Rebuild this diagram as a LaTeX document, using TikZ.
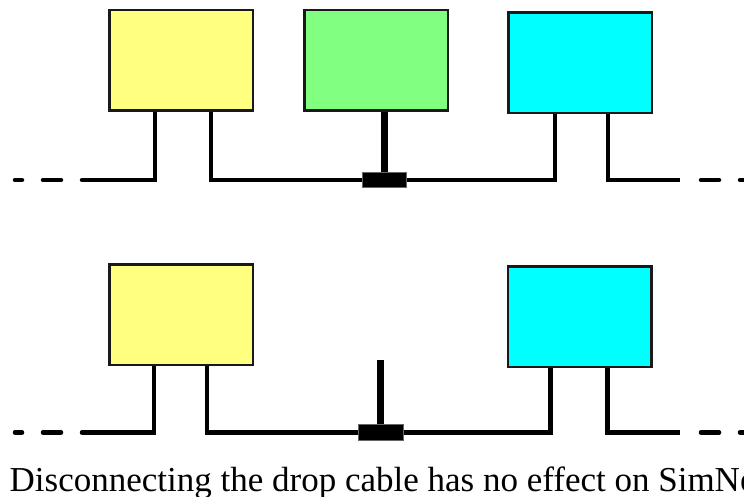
\documentclass[tikz,border=0pt]{standalone}
\usepackage{fontspec}
\setmainfont{Liberation Serif}
\usepackage{tikz}
\usetikzlibrary{positioning}

\definecolor{hostyellow}{HTML}{FFFF80}
\definecolor{hostgreen}{HTML}{80FF80}
\definecolor{hostcyan}{HTML}{00FFFF}

\begin{document}
\begin{tikzpicture}[x=1pt, y=-1pt,
            hostbox/.style={rectangle, draw=black!90, line width=2.5pt, inner sep=0pt,
                minimum width=143.5pt, minimum height=100.5pt},
            tapbox/.style={rectangle, fill=black, draw=black!60, line width=0.6pt,
                inner sep=0pt, minimum width=44pt, minimum height=15pt},
            bus/.style={line width=4.5pt, line join=miter},
            dashbus/.style={line width=4.5pt, line cap=round, dash pattern=on 18pt off 21pt},
            drop/.style={line width=7pt}
        ]
        \useasboundingbox (0,0) rectangle (744,497);
        \clip (0,0) rectangle (744,497);
        % connected: three hosts on the bus
        \node[hostbox, fill=hostyellow] (ytop) at (181,60.5) {};
        \node[hostbox, fill=hostgreen] (gtop) at (376,60.5) {};
        \node[hostbox, fill=hostcyan] (ctop) at (580,63) {};
        \node[tapbox] (taptop) at (384,180) {};
        \coordinate (lefttop) at (100,180);
        \coordinate (farlefttop) at (15,180);
        \coordinate (righttop) at (680,180);
        \coordinate (farrighttop) at (760,180);
        \draw[bus] ([xshift=47pt]ytop.south west) |- (lefttop);
        \draw[dashbus] (lefttop) -- (farlefttop);
        \draw[bus] ([xshift=103pt]ytop.south west) |- (taptop.west);
        \draw[drop] (gtop.south -| taptop) -- (taptop.north);
        \draw[bus] (taptop.east) -| ([xshift=48pt]ctop.south west);
        \draw[bus] ([xshift=101pt]ctop.south west) |- (righttop);
        \draw[dashbus, dash phase=18pt] (righttop) -- (farrighttop);
        \node[tapbox] at (taptop) {};
        % disconnected: the drop cable hangs free
        \node[hostbox, fill=hostyellow] (ybot) at (181,314.5) {};
        \node[hostbox, fill=hostcyan] (cbot) at (579.5,316.5) {};
        \node[tapbox, minimum width=45pt, minimum height=16pt] (tapbot) at (381,432.5) {};
        \coordinate (stubend) at (380,360);
        \coordinate (leftbot) at (100,432.5);
        \coordinate (farleftbot) at (15,432.5);
        \coordinate (rightbot) at (680,432.5);
        \coordinate (farrightbot) at (760,432.5);
        \draw[bus] ([xshift=46pt]ybot.south west) |- (leftbot);
        \draw[dashbus] (leftbot) -- (farleftbot);
        \draw[bus] ([xshift=99pt]ybot.south west) |- (tapbot.west);
        \draw[drop] (stubend) -- (tapbot.north -| stubend);
        \draw[bus] (tapbot.east) -| ([xshift=44pt]cbot.south west);
        \draw[bus] ([xshift=101pt]cbot.south west) |- (rightbot);
        \draw[dashbus, dash phase=18pt] (rightbot) -- (farrightbot);
        \node[tapbox, minimum width=45pt, minimum height=16pt] at (tapbot) {};
        \node[anchor=base west, inner sep=0pt, font=\fontsize{35}{41}\selectfont]
            (caption) at (9.5,491) {Disconnecting the drop cable has no effect on SimNe};
\end{tikzpicture}
\end{document}
